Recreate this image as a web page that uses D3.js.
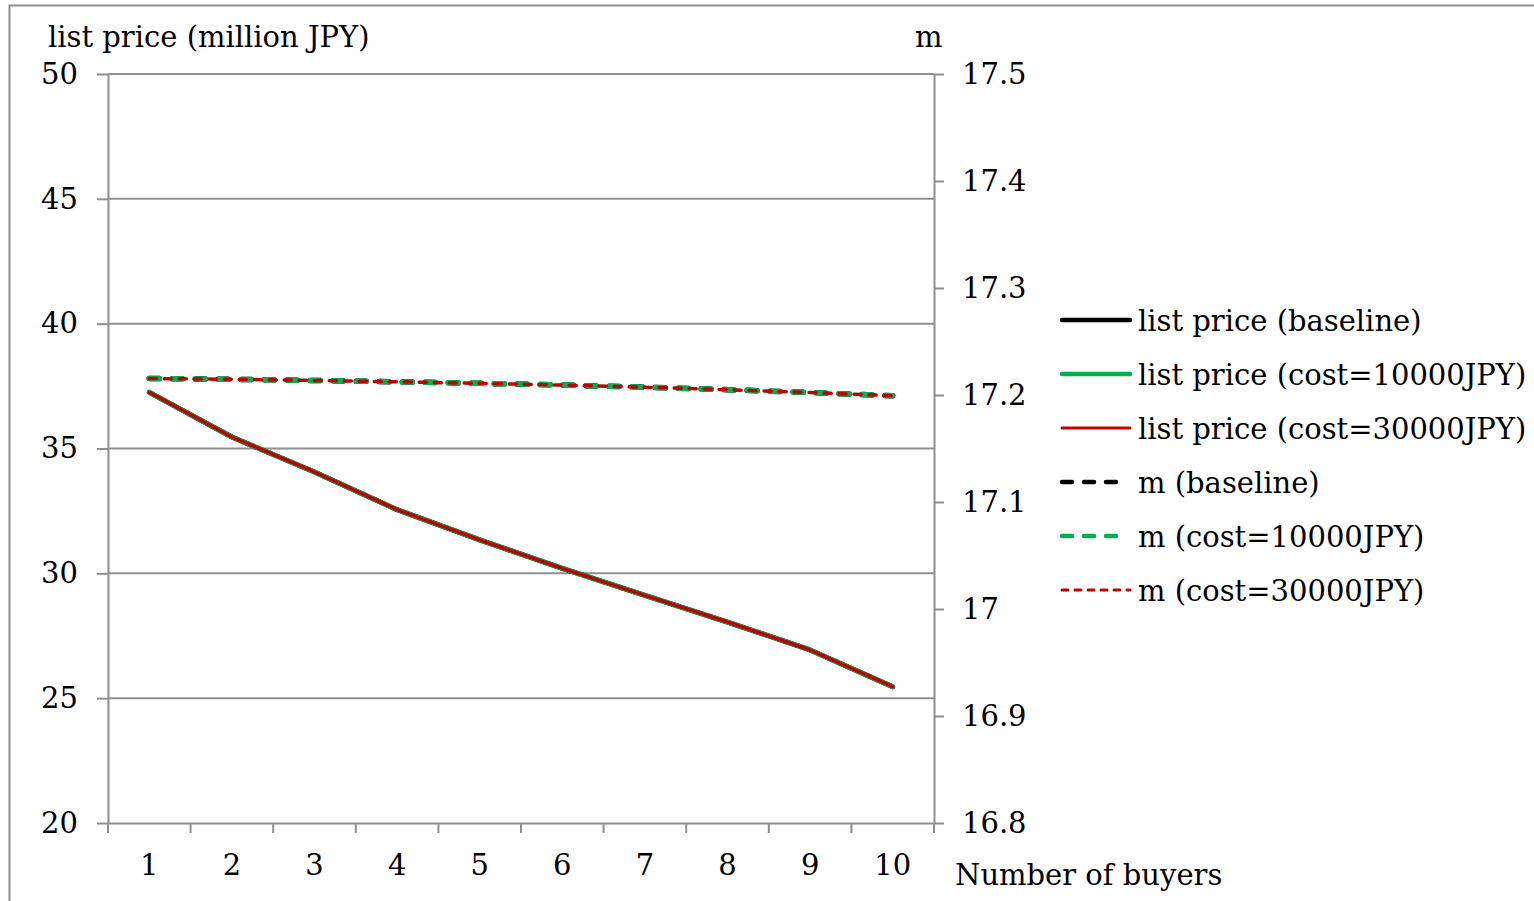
<!DOCTYPE html>
<html>
<head>
<meta charset="utf-8">
<script src="https://cdn.jsdelivr.net/npm/d3@7"></script>
<style>
  body { margin: 0; background: #fff; }
  svg { display: block; }
  text { font-family: "DejaVu Serif", "Liberation Serif", serif; fill: #000; }
</style>
</head>
<body>
<svg id="chart" width="1534" height="901"></svg>
<script>
// Number of buyers on the x axis
const buyers = ["1", "2", "3", "4", "5", "6", "7", "8", "9", "10"];

// List price (million JPY), left axis
const listPriceBaseline  = [37.25, 35.46, 34.06, 32.55, 31.34, 30.20, 29.12, 28.05, 26.93, 25.46];
const listPriceCost10000 = [37.25, 35.46, 34.06, 32.55, 31.34, 30.20, 29.12, 28.05, 26.93, 25.46];
const listPriceCost30000 = [37.25, 35.46, 34.06, 32.55, 31.34, 30.20, 29.12, 28.05, 26.93, 25.46];

// m, right axis
const mBaseline  = [17.2154, 17.2147, 17.2136, 17.2123, 17.2109, 17.2093, 17.2073, 17.2050, 17.2023, 17.1993];
const mCost10000 = [17.2154, 17.2147, 17.2136, 17.2123, 17.2109, 17.2093, 17.2073, 17.2050, 17.2023, 17.1993];
const mCost30000 = [17.2154, 17.2147, 17.2136, 17.2123, 17.2109, 17.2093, 17.2073, 17.2050, 17.2023, 17.1993];

// Axis ticks
const leftTicks  = [20, 25, 30, 35, 40, 45, 50];
const rightTicks = [16.8, 16.9, 17.0, 17.1, 17.2, 17.3, 17.4, 17.5];

// Series names in legend order
const seriesNames = [
  "list price (baseline)",
  "list price (cost=10000JPY)",
  "list price (cost=30000JPY)",
  "m (baseline)",
  "m (cost=10000JPY)",
  "m (cost=30000JPY)"
];

const FONT = 29;
const GRID = "#8f8f8f";
const plot = { left: 108, right: 934, top: 74, bottom: 823 };

const svg = d3.select("#chart");

// Chart area frame
svg.append("rect")
  .attr("x", 9.5).attr("y", 5.5)
  .attr("width", 1560).attr("height", 1000)
  .attr("fill", "none").attr("stroke", GRID).attr("stroke-width", 2);

const x = d3.scaleBand().domain(buyers).range([plot.left, plot.right]);
const yL = d3.scaleLinear().domain([20, 50]).range([plot.bottom, plot.top]);
const yR = d3.scaleLinear().domain([16.8, 17.5]).range([plot.bottom, plot.top]);
const cx = d => x(d) + x.bandwidth() / 2;

// Horizontal gridlines
svg.append("g").selectAll("line")
  .data(leftTicks.slice(1))
  .join("line")
  .attr("x1", plot.left).attr("x2", plot.right)
  .attr("y1", d => yL(d)).attr("y2", d => yL(d))
  .attr("stroke", GRID).attr("stroke-width", 2);

// Left axis
const gL = svg.append("g")
  .attr("transform", `translate(${plot.left},0)`)
  .call(d3.axisLeft(yL).tickValues(leftTicks).tickSize(11).tickSizeOuter(0).tickPadding(19));
// Right axis
const gR = svg.append("g")
  .attr("transform", `translate(${plot.right},0)`)
  .call(d3.axisRight(yR).tickValues(rightTicks).tickSize(10).tickSizeOuter(0).tickPadding(18)
    .tickFormat(d => String(+d.toFixed(1))));
// Bottom axis: labels centred under each category
const gB = svg.append("g")
  .attr("transform", `translate(0,${plot.bottom})`)
  .call(d3.axisBottom(x).tickSize(0).tickPadding(31));
gB.selectAll(".tick line").remove();
// Category boundary ticks
const bounds = buyers.map(d => x(d)).concat([plot.right]);
gB.append("g").selectAll("line")
  .data(bounds)
  .join("line")
  .attr("x1", d => d).attr("x2", d => d)
  .attr("y1", 0).attr("y2", 10)
  .attr("stroke", GRID).attr("stroke-width", 2);

[gL, gR, gB].forEach(g => {
  g.select(".domain").attr("stroke", GRID).attr("stroke-width", 2);
  g.selectAll(".tick line").attr("stroke", GRID).attr("stroke-width", 2);
  g.selectAll("text").attr("font-size", FONT).attr("font-family", null).attr("fill", "#000");
});

// Axis titles
svg.append("text").attr("x", 48).attr("y", 47).attr("font-size", FONT).text("list price (million JPY)");
svg.append("text").attr("x", 915).attr("y", 47).attr("font-size", FONT).text("m");
svg.append("text").attr("x", 955).attr("y", 885).attr("font-size", FONT).text("Number of buyers");

// Series styling (plot lines)
const styles = [
  { color: "#000000", width: 5,   dash: null },
  { color: "#00b050", width: 5,   dash: null },
  { color: "#c00000", width: 3.5, dash: null },
  { color: "#000000", width: 5.5, dash: "10,13" },
  { color: "#00b050", width: 5.5, dash: "10,13" },
  { color: "#c00000", width: 3.5, dash: "7,8" }
];
// Legend sample widths
const legendWidths = [4.5, 4.5, 3, 4.5, 4.5, 3];
const legendDash = [null, null, null, "10,12", "10,12", "6,7"];

const seriesData = [
  { values: listPriceBaseline,  scale: yL },
  { values: listPriceCost10000, scale: yL },
  { values: listPriceCost30000, scale: yL },
  { values: mBaseline,  scale: yR },
  { values: mCost10000, scale: yR },
  { values: mCost30000, scale: yR }
];

const gLines = svg.append("g");
seriesData.forEach((s, i) => {
  const st = styles[i];
  const line = d3.line().x((d, j) => cx(buyers[j])).y(d => s.scale(d));
  gLines.append("path")
    .datum(s.values)
    .attr("d", line)
    .attr("fill", "none")
    .attr("stroke", st.color)
    .attr("stroke-width", st.width)
    .attr("stroke-linejoin", "round")
    .attr("stroke-linecap", "round")
    .attr("stroke-dasharray", st.dash);
});

// Legend
const legend = svg.append("g");
const legendY = d3.scalePoint().domain(seriesNames).range([320, 590]);
seriesNames.forEach((name, i) => {
  const st = styles[i];
  const y = legendY(name);
  const isDashed = legendDash[i] !== null;
  const x2 = (isDashed && i !== 5) ? 1123 : 1130;
  legend.append("line")
    .attr("x1", 1062).attr("x2", x2)
    .attr("y1", y).attr("y2", y)
    .attr("stroke", st.color)
    .attr("stroke-width", legendWidths[i])
    .attr("stroke-linecap", "round")
    .attr("stroke-dasharray", legendDash[i]);
  legend.append("text")
    .attr("x", 1138).attr("y", y + 11)
    .attr("font-size", FONT)
    .text(name);
});
</script>
</body>
</html>
